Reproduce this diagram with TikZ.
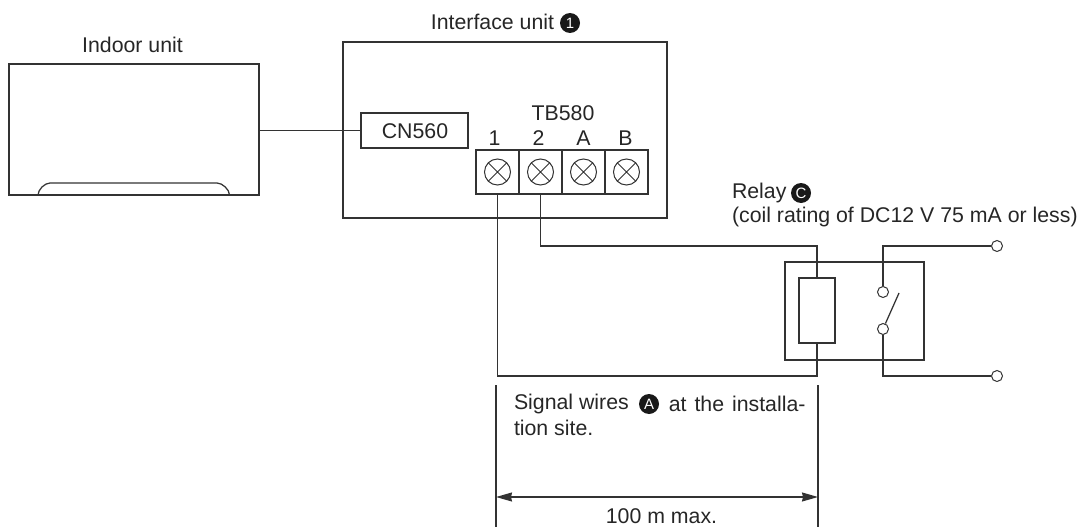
\documentclass[tikz,border=0pt]{standalone}
\usepackage{fontspec}
\setmainfont{Liberation Sans}
\usepackage{tikz}
\usetikzlibrary{arrows.meta,positioning}

\begin{document}
\begin{tikzpicture}[x=1pt,y=-1pt,>={Stealth[length=16pt,width=9pt,inset=1pt]},line width=1.25pt,
    draw=black!80,
    node distance=0pt,
    box node/.style={rectangle,draw,inner sep=0pt,outer sep=0pt},
    text node/.style={inner sep=0pt,outer sep=0pt,font=\fontsize{21.3}{24}\selectfont,text=black!85},
    term node/.style={box node,minimum width=43pt,minimum height=44pt},
    screw node/.style={circle,draw,minimum size=26pt,inner sep=0pt,line width=1pt,
        path picture={\draw[line width=1pt] (path picture bounding box.north west) -- (path picture bounding box.south east)
        (path picture bounding box.north east) -- (path picture bounding box.south west);}},
    badge node/.style={circle,fill=black!90,text=white,inner sep=0pt,minimum size=20pt,font=\fontsize{15}{15}\selectfont},
    end node/.style={circle,draw,fill=white,minimum size=11pt,inner sep=0pt,line width=1pt}]

  \useasboundingbox (0,0) rectangle (1079,527);

  % indoor unit
  \node[box node,minimum width=250pt,minimum height=131pt] (indoor) at (134,129.5) {};
  \node[text node] (indoorlabel) at (132.5,45) {Indoor unit};
  \draw (38,195) to[out=90,in=180,looseness=0.8] (50,183) -- (217,183) to[out=0,in=90,looseness=0.8] (229.5,195);

  % interface unit
  \node[box node,minimum width=324pt,minimum height=176pt] (iface) at (505,130) {};
  \node[text node] (ifacelabel) at (492.5,22) {Interface unit};
  \node[badge node] (badgeone) at (570,23) {1};
  \node[box node,minimum width=107pt,minimum height=35pt] (cn) at (414.5,130.5) {};
  \node[text node] (cnlabel) at (415,131) {CN560};
  \draw (indoor.east |- cn.west) -- (cn.west);

  % terminal block
  \node[term node] (t1) at (497.5,172) {};
  \node[term node,right=of t1] (t2) {};
  \node[term node,right=of t2] (t3) {};
  \node[term node,right=of t3] (t4) {};
  \foreach \n/\lab/\dx in {1/1/-3,2/2/-2,3/A/0,4/B/-1} {
    \node[screw node] (s\n) at (t\n) {};
    \node[text node,above=5pt of t\n,xshift=\dx pt] (n\n) {\lab};
  }
  \node[text node] (tblabel) at (563,113) {TB580};

  % relay
  \node[text node,anchor=west] (relaylabel) at (732,193) {Relay};
  \node[badge node] (badgec) at (801,193) {C};
  \node[text node,anchor=west] (ratinglabel) at (732,217) {(coil rating of DC12 V 75 mA or less)};
  \node[box node,minimum width=139pt,minimum height=98pt] (relay) at (854.5,311) {};
  \node[box node,minimum width=36pt,minimum height=65pt] (coil) at (817,310.5) {};
  \node[end node] (ctop) at (883,292) {};
  \node[end node] (cbot) at (883,329) {};
  \node[end node] (out1) at (997,246) {};
  \node[end node] (out2) at (997,376) {};
  \coordinate (arm) at (899,293);
  \draw (cbot) -- (arm);

  \path (t2.south) ++(0,52) coordinate (wirea);
  \path (t1.south) ++(0,182) coordinate (wireb);
  \draw (t2.south) -- (wirea) -| (coil.north);
  \draw (t1.south) -- (wireb) -| (coil.south);
  \draw (ctop.north) |- (out1.west);
  \draw (cbot.south) |- (out2.west);

  % signal wires
  \node[text node,anchor=west] (sigone) at (514,404) {Signal wires};
  \node[badge node] (badgea) at (649,404) {A};
  \node[text node,anchor=east] (sigtwo) at (805.5,404) {at\hspace{2pt} the\hspace{2pt} installa-};
  \node[text node,anchor=west] (sigthree) at (514,428) {tion site.};

  \coordinate (dimla) at (496,385);
  \coordinate (dimlb) at (496,527);
  \coordinate (dimra) at (818,385);
  \coordinate (dimrb) at (818,527);
  \coordinate (arrl) at (496,497);
  \coordinate (arrr) at (818,497);
  \draw (dimla) -- (dimlb);
  \draw (dimra) -- (dimrb);
  \draw[<->] (arrl) -- (arrr);
  \node[text node] (maxlabel) at (661.5,516) {100 m max.};
\end{tikzpicture}
\end{document}
